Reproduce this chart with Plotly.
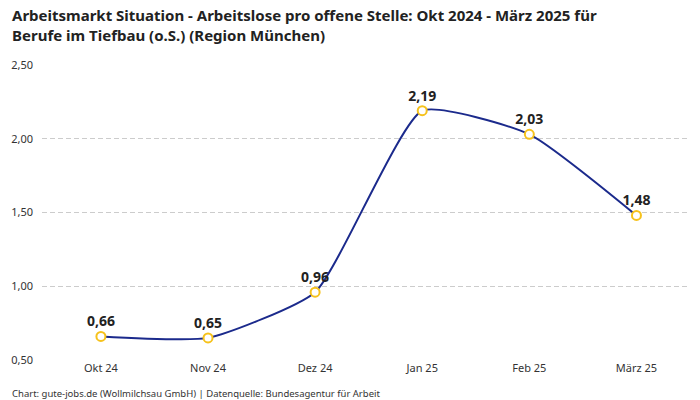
import plotly.graph_objects as go

categories = ["Okt 24", "Nov 24", "Dez 24", "Jan 25", "Feb 25", "März 25"]
values = [0.66, 0.65, 0.96, 2.19, 2.03, 1.48]
labels = [f"{v:.2f}".replace(".", ",") for v in values]
y_ticks = [0.5, 1.0, 1.5, 2.0, 2.5]
y_ticklabels = ["0,50", "1,00", "1,50", "2,00", "2,50"]

title = ("<b>Arbeitsmarkt Situation - Arbeitslose pro offene Stelle: Okt 2024 - März 2025 für<br>"
         "Berufe im Tiefbau (o.S.) (Region München)</b>")
source = "Chart: gute-jobs.de (Wollmilchsau GmbH) | Datenquelle: Bundesagentur für Arbeit"

FONT = "Noto Sans"
L, R, T, B = 42, 10, 65, 40
PW, PH = 700 - L - R, 400 - T - B

fig = go.Figure()
fig.add_trace(go.Scatter(
    x=categories, y=values, mode="lines+markers+text",
    line=dict(color="#1b2a8c", width=2, shape="spline", smoothing=0.5),
    marker=dict(size=9, color="white", line=dict(color="#f6c21c", width=2)),
    text=labels, textposition="top center",
    textfont=dict(family=FONT, size=14, color="#222222", weight="bold"),
    cliponaxis=False, hoverinfo="skip",
))

fig.update_layout(
    width=700, height=400,
    margin=dict(l=L, r=R, t=T, b=B),
    paper_bgcolor="white", plot_bgcolor="white",
    showlegend=False,
    font=dict(family=FONT, color="#333333", size=11),
    xaxis=dict(type="category", range=[-0.55, 5.5], showgrid=False, zeroline=False,
               showline=False, ticks="", tickfont=dict(size=11, color="#333333")),
    yaxis=dict(range=[0.5, 2.5], tickvals=y_ticks, ticktext=y_ticklabels,
               showgrid=True, gridcolor="#cccccc", griddash="5px,3px", gridwidth=1,
               zeroline=False, showline=False, ticks="", ticklabelstandoff=8,
               tickfont=dict(size=11, color="#333333")),
)
fig.add_annotation(text=title, xref="paper", yref="paper",
                   x=(10 - L) / PW, y=1 + (T - 3) / PH,
                   xanchor="left", yanchor="top", align="left", showarrow=False,
                   font=dict(family=FONT, size=15, color="#222222"))
fig.add_annotation(text=source, xref="paper", yref="paper",
                   x=(10 - L) / PW, y=-33 / PH,
                   xanchor="left", yanchor="middle", showarrow=False,
                   font=dict(family=FONT, size=9.5, color="#333333"))

fig.write_html("out.html", config={"displayModeBar": False},
               post_script="document.body.style.margin='0';")
